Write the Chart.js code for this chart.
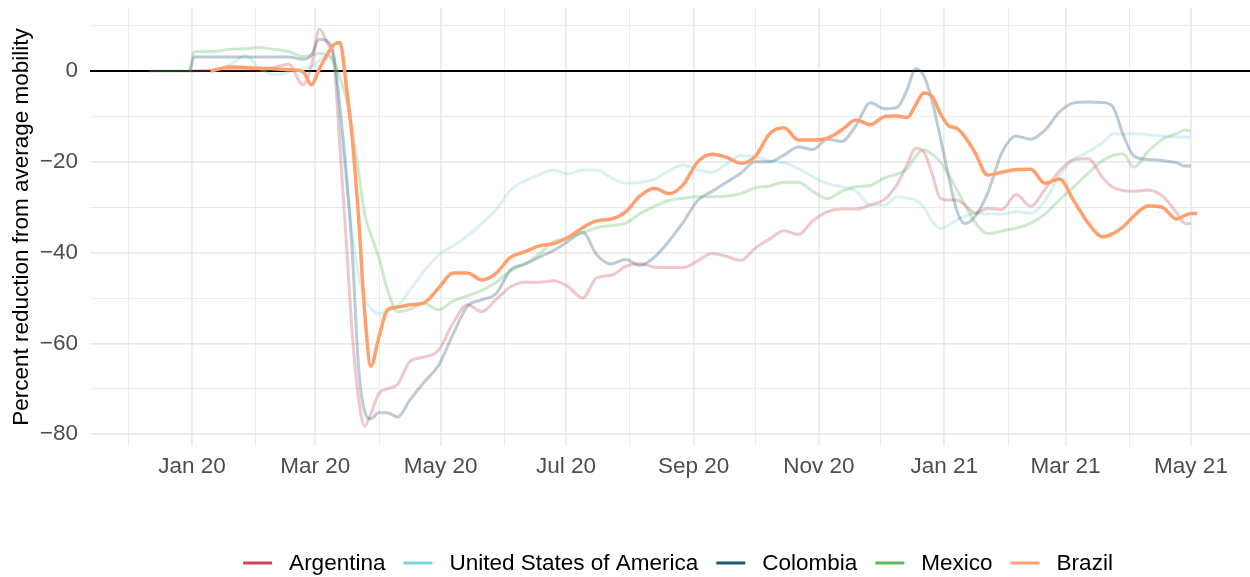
<!DOCTYPE html>
<html>
<head>
<meta charset="utf-8">
<script src="https://cdn.jsdelivr.net/npm/chart.js@4.4.1/dist/chart.umd.min.js"></script>
<style>
  html, body { margin: 0; padding: 0; background: #fff; }
  #wrap { width: 1250px; height: 577px; }
</style>
</head>
<body>
<div id="wrap"><canvas id="mobilityChart" width="1250" height="577"></canvas></div>
<script>
// Dates of the readings (smoothed mobility curves)
const dates = [
  '2019-12-11','2019-12-25','2019-12-31','2020-01-02','2020-01-10','2020-01-20','2020-01-27','2020-02-03','2020-02-10','2020-02-17',
  '2020-02-24','2020-02-28','2020-03-03','2020-03-07','2020-03-10','2020-03-13','2020-03-16','2020-03-19','2020-03-22','2020-03-25',
  '2020-03-28','2020-04-01','2020-04-05','2020-04-10','2020-04-16','2020-04-23','2020-04-30','2020-05-07','2020-05-14','2020-05-21',
  '2020-05-28','2020-06-04','2020-06-11','2020-06-18','2020-06-25','2020-07-02','2020-07-09','2020-07-16','2020-07-23','2020-07-30',
  '2020-08-06','2020-08-13','2020-08-20','2020-08-27','2020-09-03','2020-09-10','2020-09-17','2020-09-24','2020-10-01','2020-10-08',
  '2020-10-15','2020-10-22','2020-10-29','2020-11-05','2020-11-12','2020-11-19','2020-11-26','2020-12-03','2020-12-09','2020-12-14',
  '2020-12-18','2020-12-22','2020-12-26','2020-12-30','2021-01-03','2021-01-07','2021-01-11','2021-01-16','2021-01-22','2021-01-29',
  '2021-02-05','2021-02-12','2021-02-19','2021-02-26','2021-03-05','2021-03-12','2021-03-19','2021-03-24','2021-03-29','2021-04-03',
  '2021-04-10','2021-04-17','2021-04-24','2021-04-28','2021-05-01','2021-05-04'
];

const argentina = [
  null, null, 0, 0, 0.2, 0.3, 0.3, 0.2, 0.8, 1.5,
  -3, 1, 9.2, 6, 2.5, -17, -37, -58, -72, -78.2,
  -75.5, -71, -70, -69, -64, -63, -61.5, -55.5, -51.5, -53,
  -50.3, -47.5, -46.5, -46.5, -46.2, -47.5, -50, -45.5, -45, -43,
  -42.4, -43.2, -43.3, -43.3, -41.8, -40.2, -40.8, -41.7, -39, -37,
  -35.2, -36, -33, -31, -30.4, -30.4, -29.5, -28.2, -25, -20.5,
  -17, -17.8, -22.5, -28, -28.4, -28.4, -29.5, -31.3, -30.3, -30.5,
  -27.2, -29.8, -26, -22, -19.5, -19.3, -23.5, -25.6, -26.3, -26.5,
  -26.2, -27.5, -31.2, -33.6, -33.6, null
];

const usa = [
  null, null, null, null, -0.2, 1.5, 3.5, 0.5, -0.8, -0.3,
  0.5, 1, 2.3, 3.3, 2, -12, -24, -36, -45, -50,
  -52.3, -53.4, -53, -51.8, -48.3, -44, -40.5, -38.5, -36.3, -33.5,
  -30.5, -26.2, -24.2, -22.8, -21.8, -22.7, -21.8, -21.8, -23.5, -24.7,
  -24.5, -23.8, -22, -20.7, -21.8, -22.3, -20.5, -18.6, -18.8, -19.8,
  -20.2, -21.5, -23.3, -24.8, -25.5, -26.5, -29.5, -29.5, -27.7, -28,
  -28.4, -30, -33, -34.7, -34, -32.8, -32, -31.4, -31.5, -31.5,
  -31, -31.3, -28.5, -23, -19.5, -17.8, -15.8, -13.8, -13.8, -13.8,
  -14, -14.3, -14.5, -14.5, -14.5, null
];

const colombia = [
  null, null, 0, 3.1, 3.1, 3.1, 3.1, 3.1, 3.1, 3.1,
  2.6, 3.5, 7, 6.5, 3.5, -8, -22, -40, -65, -75,
  -76.6, -75.3, -75.3, -76.2, -72.5, -68.5, -64.8, -58, -51.8, -50.4,
  -49, -43.8, -42.5, -41, -39.5, -37.5, -35.5, -40.5, -42.5, -41.5,
  -42.8, -41, -37.5, -33.3, -28.5, -26.5, -24.5, -22.5, -20, -20,
  -18.5, -16.7, -17.3, -15, -15.5, -12, -7, -8.3, -8, -4,
  0.5, -1, -6.5, -14.5, -23, -30.6, -33.6, -32, -27, -18,
  -14.3, -15, -13, -9, -7, -6.8, -6.9, -7.9, -14, -18.6,
  -19.5, -19.7, -20.2, -20.9, -20.9, null
];

const mexico = [
  0, 0, 0, 4.3, 4.3, 4.8, 4.9, 5.2, 4.8, 4.3,
  3.2, 3.5, 3.9, 3.6, 2, -1.5, -6, -13, -22, -31.5,
  -36, -41.3, -48, -53, -52.5, -51.2, -52.6, -50.7, -49.5, -48.3,
  -46.5, -44, -42.5, -40.3, -37.5, -36.9, -35.6, -34.5, -34, -33.5,
  -31.4, -29.8, -28.5, -28, -27.7, -27.7, -27.5, -27, -25.7, -25.3,
  -24.5, -24.5, -26.5, -28.1, -26.5, -25.5, -25.2, -23.5, -22.7, -21.5,
  -18.8, -17.4, -18.3, -20, -22.8, -26, -29.5, -33.3, -35.8, -35.2,
  -34.6, -33.5, -31.5, -28.4, -25.5, -22.5, -19.7, -18.6, -18.2, -21.2,
  -17.8, -15, -13.8, -13, -13.2, null
];

const brazil = [
  null, null, null, null, 0, 0.9, 0.8, 0.6, 0.5, 0.3,
  -0.1, -3, 0.5, 3.8, 5.8, 6.3, -3, -15, -32, -53,
  -65, -58.5, -52.7, -52, -51.5, -51, -47.8, -44.5, -44.5, -46,
  -44.5, -41, -39.8, -38.5, -38, -36.6, -34.5, -33, -32.6, -31,
  -27.5, -25.8, -27, -25, -20, -18.3, -19, -20.3, -18.8, -13.8,
  -12.5, -15.2, -15.2, -14.8, -13, -10.8, -11.8, -10, -9.9, -10.2,
  -7.5, -4.8, -5.5, -9.3, -12, -12.6, -14.5, -18, -22.9, -22.3,
  -21.7, -21.6, -24.7, -23.8, -28.6, -33.5, -36.5, -35.8, -34.3, -32,
  -29.7, -30, -32.6, -31.8, -31.4, -31.4
];

const countries = ['Argentina', 'United States of America', 'Colombia', 'Mexico', 'Brazil'];
const seriesValues = [argentina, usa, colombia, mexico, brazil];
const colors = ['#cc4452', '#80d2de', '#1f547a', '#5eba5e', '#ffa06e'];
const lineAlpha = [0.3, 0.3, 0.3, 0.3, 1];

// x axis: one gridline per month, label every other month
const monthTicks = [
  '2019-12-01','2020-01-01','2020-02-01','2020-03-01','2020-04-01','2020-05-01','2020-06-01','2020-07-01','2020-08-01',
  '2020-09-01','2020-10-01','2020-11-01','2020-12-01','2021-01-01','2021-02-01','2021-03-01','2021-04-01','2021-05-01'
];
const monthLabels = [
  '', 'Jan 20', '', 'Mar 20', '', 'May 20', '', 'Jul 20', '',
  'Sep 20', '', 'Nov 20', '', 'Jan 21', '', 'Mar 21', '', 'May 21'
];
const yTicks = [-80, -70, -60, -50, -40, -30, -20, -10, 0, 10];

// days since 2020-01-01
function dayOf(s) {
    const p = s.split('-').map(Number);
    return (Date.UTC(p[0], p[1] - 1, p[2]) - Date.UTC(2020, 0, 1)) / 86400000;
}

function withAlpha(hex, a) {
    const n = parseInt(hex.slice(1), 16);
    return `rgba(${(n >> 16) & 255}, ${(n >> 8) & 255}, ${n & 255}, ${a})`;
}

const FONT = '"Liberation Sans", Arial, Helvetica, sans-serif';
const TEXT_SIZE = 22.5;
Chart.defaults.font.family = FONT;

const datasets = countries.map((name, k) => ({
    label: name,
    data: dates.map((d, i) => ({ x: dayOf(d), y: seriesValues[k][i] })),
    borderColor: withAlpha(colors[k], lineAlpha[k]),
    backgroundColor: colors[k],
    borderWidth: k === 4 ? 3.5 : 3,
    pointRadius: 0,
    cubicInterpolationMode: 'monotone',
    spanGaps: false,
    order: countries.length - 1 - k
}));

// ggplot-style legend centred under the panel
const bottomLegend = {
    id: 'bottomLegend',
    afterDraw(chart) {
        const ctx = chart.ctx;
        const keyLen = 29, keyGap = 17, itemGap = 18;
        ctx.save();
        ctx.font = TEXT_SIZE + 'px ' + FONT;
        const widths = countries.map(c => ctx.measureText(c).width);
        const total = widths.reduce((a, w) => a + keyLen + keyGap + w, 0) + itemGap * (countries.length - 1);
        let x = 678 - total / 2;
        const y = 563;
        ctx.textBaseline = 'middle';
        countries.forEach((c, k) => {
            ctx.strokeStyle = colors[k];
            ctx.lineWidth = 3;
            ctx.beginPath();
            ctx.moveTo(x, y);
            ctx.lineTo(x + keyLen, y);
            ctx.stroke();
            x += keyLen + keyGap;
            ctx.fillStyle = '#000';
            ctx.fillText(c, x, y + 1);
            x += widths[k] + itemGap;
        });
        ctx.restore();
    }
};

const ctx = document.getElementById('mobilityChart').getContext('2d');
new Chart(ctx, {
    type: 'line',
    data: { datasets: datasets },
    options: {
        responsive: false,
        animation: false,
        devicePixelRatio: 1,
        layout: { padding: { top: 8, left: 0, right: 0, bottom: 0 } },
        plugins: {
            legend: { display: false },
            tooltip: { enabled: false }
        },
        scales: {
            x: {
                type: 'linear',
                min: -49.6,
                max: 514.7,
                afterBuildTicks: s => { s.ticks = monthTicks.map(d => ({ value: dayOf(d) })); },
                afterFit: s => { s.height = 131; s.paddingLeft = 0; s.paddingRight = 0; },
                border: { display: false },
                grid: {
                    color: '#ebebeb',
                    lineWidth: c => (c.index % 2 === 1 ? 1.8 : 1),
                    drawTicks: false
                },
                ticks: {
                    autoSkip: false,
                    maxRotation: 0,
                    padding: 7,
                    color: '#4d4d4d',
                    font: { size: TEXT_SIZE },
                    callback: (v, i) => monthLabels[i]
                }
            },
            y: {
                min: -82.6,
                max: 13.9,
                afterBuildTicks: s => { s.ticks = yTicks.map(v => ({ value: v })); },
                afterFit: s => { s.width = 90; s.paddingTop = 0; s.paddingBottom = 0; },
                border: { display: false },
                grid: {
                    color: c => (c.tick && c.tick.value === 0 ? '#000000' : '#ebebeb'),
                    lineWidth: c => {
                        const v = c.tick ? c.tick.value : 1;
                        if (v === 0) return 2;
                        return v % 20 === 0 ? 1.8 : 1;
                    },
                    drawTicks: false
                },
                ticks: {
                    padding: 12,
                    color: '#4d4d4d',
                    font: { size: TEXT_SIZE },
                    callback: v => (v % 20 === 0 ? (v < 0 ? '\u2212' + Math.abs(v) : String(v)) : '')
                },
                title: {
                    display: true,
                    text: 'Percent reduction from average mobility',
                    color: '#000',
                    font: { size: TEXT_SIZE },
                    padding: { top: 8, bottom: 0 }
                }
            }
        }
    },
    plugins: [bottomLegend]
});
</script>
</body>
</html>
